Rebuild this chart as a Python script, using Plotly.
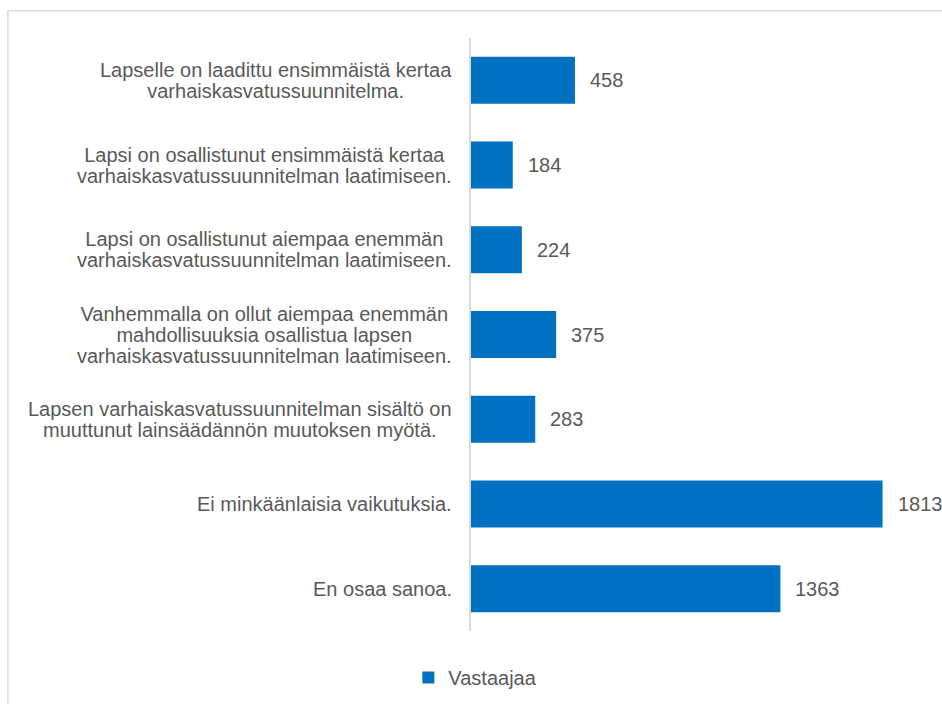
import plotly.graph_objects as go

categories = [
    "Lapselle on laadittu ensimmäistä kertaa<br>varhaiskasvatussuunnitelma.",
    "Lapsi on osallistunut ensimmäistä kertaa<br>varhaiskasvatussuunnitelman laatimiseen.",
    "Lapsi on osallistunut aiempaa enemmän<br>varhaiskasvatussuunnitelman laatimiseen.",
    "Vanhemmalla on ollut aiempaa enemmän<br>mahdollisuuksia osallistua lapsen<br>varhaiskasvatussuunnitelman laatimiseen.",
    "Lapsen varhaiskasvatussuunnitelman sisältö on<br>muuttunut lainsäädännön muutoksen myötä.",
    "Ei minkäänlaisia vaikutuksia.",
    "En osaa sanoa.",
]
values = [458, 184, 224, 375, 283, 1813, 1363]
series_name = "Vastaajaa"

BLUE = "#0070C0"
TEXT = "#595959"
FONT = "Liberation Sans, Arial, sans-serif"
FS = 20
LINE_H = 21  # excel packs label lines tighter than plotly's 1.3em

fig = go.Figure()
fig.add_trace(go.Bar(
    y=categories, x=values, orientation="h",
    name=series_name, marker=dict(color=BLUE, line=dict(width=0)),
    width=0.555, showlegend=True,
))

# category labels, centre-aligned; the outer font size only sets line spacing,
# the glyphs are drawn at FS through the inner spans
for cat in categories:
    lines = cat.split("<br>")
    txt = "<br>".join(f"<span style='font-size:{FS}px'>{ln}</span>" for ln in lines)
    fig.add_annotation(
        x=0, y=cat, xref="x", yref="y", text=txt, showarrow=False,
        xanchor="right", align="center", xshift=-17, yanchor="middle",
        font=dict(family=FONT, size=LINE_H / 1.3, color=TEXT),
    )

# value labels to the right of each bar
for cat, v in zip(categories, values):
    fig.add_annotation(
        x=v, y=cat, xref="x", yref="y", text=str(v), showarrow=False,
        xanchor="left", xshift=13,
        font=dict(family=FONT, size=FS, color=TEXT),
    )

# light frame around the chart
fig.add_shape(
    type="rect", xref="paper", yref="paper",
    x0=-1.02, x1=2, y0=-0.3, y1=1.046,
    line=dict(color="#DDDDDD", width=1.5), layer="below",
)

fig.update_layout(
    width=942, height=704,
    margin=dict(l=471, r=17, t=38, b=73),
    plot_bgcolor="white", paper_bgcolor="white",
    font=dict(family=FONT, size=FS, color=TEXT),
    xaxis=dict(range=[0, 2000], showgrid=False, showticklabels=False,
               zeroline=False, showline=False, fixedrange=True),
    yaxis=dict(autorange="reversed", showticklabels=False, showgrid=False,
               showline=True, linecolor="#D9D9D9", linewidth=1.5,
               ticks="", zeroline=False),
    bargap=0.445,
    showlegend=True,
    legend=dict(orientation="h", x=-0.138, xanchor="left",
                yref="container", y=0.0653, yanchor="top", itemwidth=30,
                font=dict(family=FONT, size=FS, color=TEXT)),
)

# drop the default page margin so the figure sits at the window's corner
fig.write_html("out.html", config={"displayModeBar": False},
               post_script="document.body.style.margin='0';")
